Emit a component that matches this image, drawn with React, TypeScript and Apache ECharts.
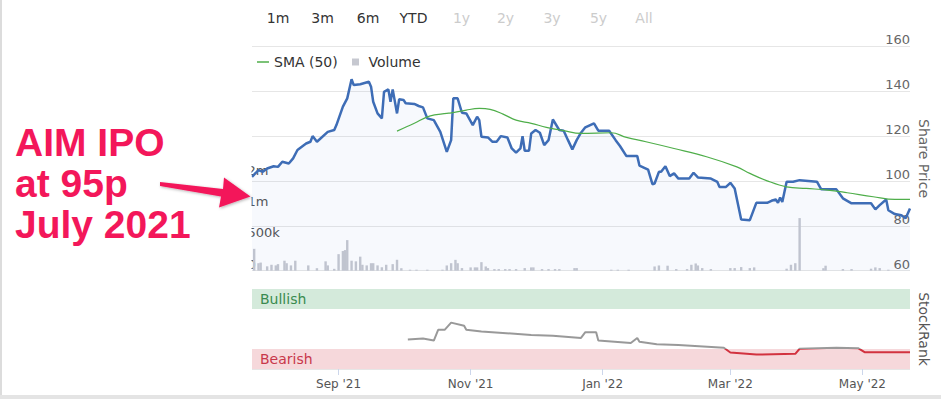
import React, { useEffect, useRef } from 'react';
import * as echarts from 'echarts';

// ---------- data ----------
const START_DATE = '2021-07-23';
const END_DATE = '2022-05-23';

const tickDates = ['2021-09-01', '2021-11-01', '2022-01-01', '2022-03-01', '2022-05-01'];
const tickLabels = ["Sep '21", "Nov '21", "Jan '22", "Mar '22", "May '22"];

const priceDates = [
  '2021-07-23', '2021-07-26', '2021-07-28', '2021-07-30', '2021-08-02', '2021-08-04', '2021-08-06', '2021-08-09',
  '2021-08-11', '2021-08-13', '2021-08-17', '2021-08-19', '2021-08-20', '2021-08-22', '2021-08-27', '2021-08-30',
  '2021-08-31', '2021-09-03', '2021-09-05', '2021-09-07', '2021-09-08', '2021-09-11', '2021-09-15', '2021-09-16',
  '2021-09-17', '2021-09-19', '2021-09-21', '2021-09-22', '2021-09-24', '2021-09-25', '2021-09-26', '2021-09-28',
  '2021-09-29', '2021-10-01', '2021-10-02', '2021-10-06', '2021-10-08', '2021-10-10', '2021-10-12', '2021-10-15',
  '2021-10-18', '2021-10-21', '2021-10-23', '2021-10-24', '2021-10-26', '2021-10-28', '2021-10-30', '2021-11-02',
  '2021-11-04', '2021-11-05', '2021-11-06', '2021-11-09', '2021-11-11', '2021-11-13', '2021-11-15', '2021-11-18',
  '2021-11-20', '2021-11-22', '2021-11-24', '2021-11-25', '2021-11-26', '2021-11-28', '2021-11-29', '2021-12-01',
  '2021-12-03', '2021-12-05', '2021-12-07', '2021-12-09', '2021-12-12', '2021-12-14', '2021-12-16', '2021-12-18',
  '2021-12-20', '2021-12-22', '2021-12-24', '2021-12-28', '2021-12-30', '2022-01-04', '2022-01-07', '2022-01-09',
  '2022-01-12', '2022-01-17', '2022-01-18', '2022-01-22', '2022-01-24', '2022-01-25', '2022-01-27', '2022-01-28',
  '2022-01-30', '2022-02-01', '2022-02-03', '2022-02-05', '2022-02-10', '2022-02-12', '2022-02-14', '2022-02-20',
  '2022-02-23', '2022-02-24', '2022-02-27', '2022-03-01', '2022-03-03', '2022-03-06', '2022-03-10', '2022-03-13',
  '2022-03-18', '2022-03-20', '2022-03-22', '2022-03-23', '2022-03-24', '2022-03-25', '2022-03-27', '2022-03-30',
  '2022-04-02', '2022-04-10', '2022-04-12', '2022-04-19', '2022-04-22', '2022-04-26', '2022-05-05', '2022-05-07',
  '2022-05-09', '2022-05-12', '2022-05-13', '2022-05-16', '2022-05-19', '2022-05-21', '2022-05-23',
];
const priceValues = [
  101.8, 104.8, 104, 105.5, 106.5, 106.2, 108.5, 107.7,
  110, 113.7, 116.6, 117.4, 119.9, 117.4, 121.8, 122.6,
  124.8, 133, 136.7, 145.2, 142.6, 143, 144.1, 141.9,
  135.2, 130, 127.8, 139.6, 140.7, 135.2, 140.7, 130,
  136.3, 136, 134.5, 134.2, 133.3, 132.7, 127.8, 127,
  121.8, 112.9, 118.1, 136.7, 136.7, 130.3, 130, 124.8,
  128.5, 127, 119.6, 119.3, 117.4, 117.4, 119.9, 119.3,
  114.4, 112.5, 114.4, 119.9, 113.4, 113.4, 121.1, 122.6,
  121.4, 115.9, 118.1, 127.3, 122.6, 122.3, 118.1, 114,
  118.1, 121.4, 123.8, 125.6, 122.3, 122.3, 118.1, 115.5,
  111, 111, 106.8, 105, 98.5, 98.8, 104, 104,
  106.5, 102.1, 103.3, 101, 101, 103.6, 101.5, 101,
  99.5, 97.3, 97.3, 99.1, 96.6, 82.8, 82.5, 90.2,
  90.2, 91.1, 91.7, 90.2, 92.6, 90.6, 99.6, 99.6,
  100.3, 99.6, 96.2, 96.2, 92.2, 90, 90, 87.3,
  89.2, 91.7, 86.9, 85.2, 84.7, 83.3, 87.7,
];

const smaDates = [
  '2021-09-28', '2021-10-06', '2021-10-13', '2021-10-21', '2021-10-23', '2021-10-30', '2021-11-05', '2021-11-10',
  '2021-11-16', '2021-11-22', '2021-11-29', '2021-12-06', '2021-12-14', '2021-12-22', '2022-01-05', '2022-01-12',
  '2022-01-21', '2022-02-03', '2022-02-18', '2022-03-04', '2022-03-10', '2022-03-18', '2022-03-27', '2022-04-05',
  '2022-04-15', '2022-04-24', '2022-05-06', '2022-05-16', '2022-05-23',
];
const smaValues = [
  122.1, 125.6, 128.8, 130, 130.2, 131.5, 132.2, 131.8,
  129.7, 127, 125.6, 123.8, 122.3, 121.1, 121.4, 119.3,
  117.4, 114.4, 110.7, 106.2, 103.3, 100, 97.3, 96.6,
  95.9, 94.7, 92.9, 91.7, 91.7,
];

const volumeDates = [
  '2021-07-24', '2021-07-26', '2021-07-27', '2021-07-30', '2021-08-01', '2021-08-03', '2021-08-04', '2021-08-07',
  '2021-08-08', '2021-08-10', '2021-08-12', '2021-08-18', '2021-08-22', '2021-08-26', '2021-08-27', '2021-08-30',
  '2021-09-01', '2021-09-03', '2021-09-04', '2021-09-05', '2021-09-07', '2021-09-09', '2021-09-11', '2021-09-12',
  '2021-09-14', '2021-09-16', '2021-09-17', '2021-09-19', '2021-09-21', '2021-09-23', '2021-09-26', '2021-09-28',
  '2021-09-30', '2021-10-04', '2021-10-07', '2021-10-12', '2021-10-19', '2021-10-21', '2021-10-23', '2021-10-25',
  '2021-10-26', '2021-10-28', '2021-11-01', '2021-11-03', '2021-11-04', '2021-11-06', '2021-11-08', '2021-11-09',
  '2021-11-12', '2021-11-14', '2021-11-17', '2021-11-19', '2021-11-22', '2021-11-26', '2021-11-29', '2021-11-30',
  '2021-12-04', '2021-12-07', '2021-12-10', '2021-12-12', '2021-12-19', '2021-12-20', '2022-01-05', '2022-01-08',
  '2022-01-13', '2022-01-25', '2022-01-27', '2022-01-31', '2022-02-04', '2022-02-09', '2022-02-11', '2022-02-13',
  '2022-02-14', '2022-02-16', '2022-02-20', '2022-03-01', '2022-03-03', '2022-03-06', '2022-03-10', '2022-03-12',
  '2022-03-27', '2022-03-29', '2022-03-31', '2022-04-02', '2022-04-13', '2022-04-14', '2022-04-22', '2022-04-26',
  '2022-05-05', '2022-05-07', '2022-05-09', '2022-05-13',
];
const volumeValues = [
  350000, 120000, 130000, 70000, 95000, 85000, 105000, 160000,
  120000, 85000, 160000, 85000, 40000, 150000, 85000, 30000,
  265000, 315000, 330000, 490000, 160000, 150000, 225000, 95000,
  85000, 120000, 120000, 85000, 55000, 95000, 105000, 175000,
  40000, 16000, 16000, 16000, 16000, 84000, 120000, 174000,
  120000, 42000, 53000, 53000, 53000, 137000, 68000, 42000,
  26000, 26000, 26000, 26000, 26000, 42000, 53000, 53000,
  26000, 26000, 26000, 26000, 42000, 42000, 16000, 16000,
  16000, 68000, 84000, 80000, 26000, 26000, 95000, 116000,
  84000, 42000, 26000, 42000, 42000, 58000, 42000, 53000,
  32000, 95000, 120000, 843000, 40000, 80000, 26000, 26000,
  32000, 53000, 42000, 16000,
];

const rankDates = [
  '2021-10-03', '2021-10-10', '2021-10-15', '2021-10-17', '2021-10-20', '2021-10-23', '2021-10-29', '2021-10-30',
  '2021-11-06', '2021-11-29', '2021-12-09', '2021-12-22', '2021-12-24', '2021-12-29', '2021-12-30', '2022-01-14',
  '2022-01-17', '2022-01-18', '2022-01-26', '2022-02-05', '2022-02-26', '2022-03-01', '2022-03-13', '2022-03-31',
  '2022-04-02', '2022-04-19', '2022-04-29', '2022-05-02', '2022-05-23',
];
const rankValues = [
  37, 38, 35.6, 49, 49, 58, 54, 49,
  47, 42.5, 41.5, 38.8, 46, 46, 35.6, 32.5,
  38.8, 34, 31, 30, 26.6, 20.7, 18, 19,
  25.3, 26.6, 26, 21, 21,
];

const priceTickInterval = 20;
const volumeLabelMax = 1500000;
const bearishThreshold = 25;
const bandNames = ['Bullish', 'Bearish'];
const bandFrom = [75, 0];
const bandTo = [100, 25];
const bandFill = ['#d4eadb', '#f6d8db'];
const bandText = ['#3a8a4f', '#c8374a'];
const rangeButtons = ['1m', '3m', '6m', 'YTD', '1y', '2y', '3y', '5y', 'All'];
const rangeEnabled = [true, true, true, true, false, false, false, false, false];
const annotationLines = ['AIM IPO', 'at 95p', 'July 2021'];

// ---------- helpers ----------
const DAY = 86400000;
const t0 = Date.parse(START_DATE);
const t1 = Date.parse(END_DATE);
const categories: string[] = [];
for (let t = t0; t <= t1; t += DAY) categories.push(new Date(t).toISOString().slice(0, 10));
const idx = (d: string) => Math.round((Date.parse(d) - t0) / DAY);
const pairs = (ds: string[], vs: number[]) => ds.map((d, i) => [idx(d), vs[i]]);
const tickIdx = new Set(tickDates.map(idx));
const labelByDate: Record<string, string> = {};
tickDates.forEach((d, i) => (labelByDate[d] = tickLabels[i]));
const volumeLabel = (v: number) =>
  v > volumeLabelMax ? '' : v === 0 ? '0' : v < 1e6 ? Math.round(v / 1000) + 'k' : Math.round(v / 1e6) + 'm';

const FONT = 'DejaVu Sans';
const PINK = '#f3175a';
const RANK_GREY = '#999999';
const RANK_RED = '#d2323f';

export default function App() {
  const ref = useRef<HTMLDivElement>(null);
  useEffect(() => {
    if (!ref.current) return;
    const chart = echarts.init(ref.current, undefined, { renderer: 'svg' });

    const rangeX = [278, 322.5, 368, 413.5, 461.5, 505.5, 552, 598.5, 644];

    const option: any = {
      animation: false,
      backgroundColor: '#fff',
      textStyle: { fontFamily: FONT },
      grid: [
        { left: 252, right: 31, top: 46, height: 224.7 },
        { left: 252, right: 31, top: 289, height: 80 },
      ],
      legend: [
        {
          data: ['SMA (50)'], left: 257, top: 55, padding: 0, icon: 'rect',
          itemWidth: 12, itemHeight: 1.5,
          textStyle: { color: '#333', fontSize: 14, fontFamily: FONT },
        },
        {
          data: ['Volume'], left: 352, top: 55, padding: 0, icon: 'rect',
          itemWidth: 7, itemHeight: 7,
          formatter: (n: string) => ' ' + n,
          textStyle: { color: '#333', fontSize: 14, fontFamily: FONT },
        },
      ],
      xAxis: [
        { type: 'category', gridIndex: 0, data: categories, boundaryGap: false, show: false },
        {
          type: 'category', gridIndex: 1, data: categories, boundaryGap: false,
          axisLine: { show: false },
          axisTick: {
            show: true, interval: (i: number) => tickIdx.has(i), length: 6,
            lineStyle: { color: '#ccd6eb' },
          },
          axisLabel: {
            interval: (i: number) => tickIdx.has(i),
            formatter: (v: string) => labelByDate[v] || '',
            color: '#555', fontSize: 12, margin: 9, fontFamily: FONT,
          },
          splitLine: { show: false },
        },
      ],
      yAxis: [
        {
          type: 'value', gridIndex: 0, position: 'right', min: 60, max: 160, interval: priceTickInterval,
          axisLine: { show: false }, axisTick: { show: false },
          axisLabel: {
            inside: true, margin: 0, color: '#666', fontSize: 13, verticalAlign: 'bottom',
            fontFamily: FONT,
          },
          splitLine: { lineStyle: { color: '#e6e6e6' } },
        },
        {
          type: 'value', gridIndex: 0, position: 'left', min: 0, max: 3600000, interval: 500000,
          axisLine: { show: false }, axisTick: { show: false }, splitLine: { show: false },
          axisLabel: {
            inside: true, margin: -4.5, color: '#555', fontSize: 13, verticalAlign: 'bottom',
            fontFamily: FONT, formatter: volumeLabel,
          },
        },
        {
          type: 'value', gridIndex: 1, position: 'right', min: 0, max: 100, interval: 100,
          axisLine: { show: false }, axisTick: { show: false },
          axisLabel: {
            inside: true, margin: 0, color: '#666', fontSize: 13, verticalAlign: 'bottom',
            fontFamily: FONT,
            formatter: (v: number) => (v === 0 ? '0' : ''),
          },
          splitLine: { lineStyle: { color: '#e6e6e6' } },
        },
      ],
      series: [
        {
          name: 'Price', type: 'line', xAxisIndex: 0, yAxisIndex: 0,
          data: pairs(priceDates, priceValues), symbol: 'none', z: 4,
          lineStyle: { color: '#3e6db6', width: 2.5 },
          itemStyle: { color: '#3e6db6' },
          areaStyle: { color: 'rgba(60,90,200,0.055)' },
        },
        {
          name: 'SMA (50)', type: 'line', xAxisIndex: 0, yAxisIndex: 0,
          data: pairs(smaDates, smaValues), symbol: 'none', smooth: 0.4, z: 5,
          lineStyle: { color: '#4fae4a', width: 1.2 },
          itemStyle: { color: '#4fae4a' },
        },
        {
          name: 'Volume', type: 'bar', xAxisIndex: 0, yAxisIndex: 1,
          data: pairs(volumeDates, volumeValues), barWidth: 2.4, z: 3,
          itemStyle: { color: '#c6c8d0' },
        },
        {
          name: 'StockRank', type: 'line', xAxisIndex: 1, yAxisIndex: 2,
          data: pairs(rankDates, rankValues), symbol: 'none', z: 5,
          lineStyle: { width: 2, color: RANK_GREY },
          itemStyle: { color: RANK_GREY },
        },
        {
          name: 'Bands', type: 'custom', xAxisIndex: 1, yAxisIndex: 2, z: 1, silent: true,
          data: bandNames.map((_, i) => [bandFrom[i], bandTo[i]]),
          renderItem: (params: any, api: any) => {
            const i = params.dataIndex;
            const cs = params.coordSys;
            const yTop = api.coord([0, api.value(1)])[1];
            const yBot = api.coord([0, api.value(0)])[1];
            return {
              type: 'group',
              children: [
                {
                  type: 'rect',
                  shape: { x: cs.x, y: yTop, width: cs.width, height: yBot - yTop },
                  style: { fill: bandFill[i] },
                },
                {
                  type: 'text', x: cs.x + 8, y: (yTop + yBot) / 2,
                  style: {
                    text: bandNames[i], fill: bandText[i], font: `14px ${FONT}`,
                    align: 'left', verticalAlign: 'middle',
                  },
                },
              ],
            };
          },
        },
      ],
      graphic: [
        { type: 'rect', z: 100, silent: true, shape: { x: 0, y: 0, width: 251.5, height: 399 }, style: { fill: '#fff' } },
        { type: 'rect', z: 101, silent: true, shape: { x: 0, y: 0, width: 2, height: 399 }, style: { fill: '#dcdcdc' } },
        { type: 'rect', z: 101, silent: true, shape: { x: 0, y: 395, width: 941, height: 4 }, style: { fill: '#e4e4e4' } },
        ...rangeButtons.map((b, i) => ({
          type: 'text', z: 101, x: rangeX[i], y: 18,
          style: {
            text: b, fill: rangeEnabled[i] ? '#333' : '#cccccc', font: `14px ${FONT}`,
            align: 'center', verticalAlign: 'middle',
          },
        })),
        {
          type: 'text', z: 101, x: 924, y: 158.5, rotation: -Math.PI / 2,
          style: { text: 'Share Price', fill: '#666', font: `14px ${FONT}`, align: 'center', verticalAlign: 'middle' },
        },
        {
          type: 'text', z: 101, x: 924, y: 329, rotation: -Math.PI / 2,
          style: { text: 'StockRank', fill: '#555', font: `14px ${FONT}`, align: 'center', verticalAlign: 'middle' },
        },
        {
          type: 'polygon', z: 102, silent: true,
          shape: {
            points: [[160, 182], [223, 189], [224, 177.5], [250.5, 196.5], [219, 207.5], [221, 196.5], [160, 186]],
          },
          style: {
            fill: PINK, shadowBlur: 3, shadowColor: 'rgba(0,0,0,0.3)', shadowOffsetX: 1, shadowOffsetY: 1,
          },
        },
        {
          type: 'text', z: 103, x: 15, y: 121.5,
          style: {
            text: annotationLines.join('\n'), fill: PINK,
            font: `bold 39px "Liberation Sans", Arial, sans-serif`, lineHeight: 41,
            align: 'left', verticalAlign: 'top',
            stroke: '#fff', lineWidth: 4,
            shadowBlur: 4, shadowColor: 'rgba(0,0,0,0.45)', shadowOffsetX: 2, shadowOffsetY: 2,
          },
        },
      ],
    };
    chart.setOption(option);

    // colour the StockRank line red wherever it sits inside the bearish zone
    const yTop = chart.convertToPixel({ yAxisIndex: 2 } as any, 100) as unknown as number;
    const yBot = chart.convertToPixel({ yAxisIndex: 2 } as any, 0) as unknown as number;
    const yThr = chart.convertToPixel({ yAxisIndex: 2 } as any, bearishThreshold) as unknown as number;
    if (isFinite(yTop) && isFinite(yBot) && yBot !== yTop) {
      const off = (yThr - yTop) / (yBot - yTop);
      const grad = new echarts.graphic.LinearGradient(0, yTop, 0, yBot, [
        { offset: 0, color: RANK_GREY },
        { offset: off, color: RANK_GREY },
        { offset: off, color: RANK_RED },
        { offset: 1, color: RANK_RED },
      ], true);
      chart.setOption({ series: [{}, {}, {}, { lineStyle: { color: grad } }] });
    }
    return () => chart.dispose();
  }, []);
  return <div ref={ref} style={{ position: 'fixed', left: 0, top: 0, width: 941, height: 399 }} />;
}
